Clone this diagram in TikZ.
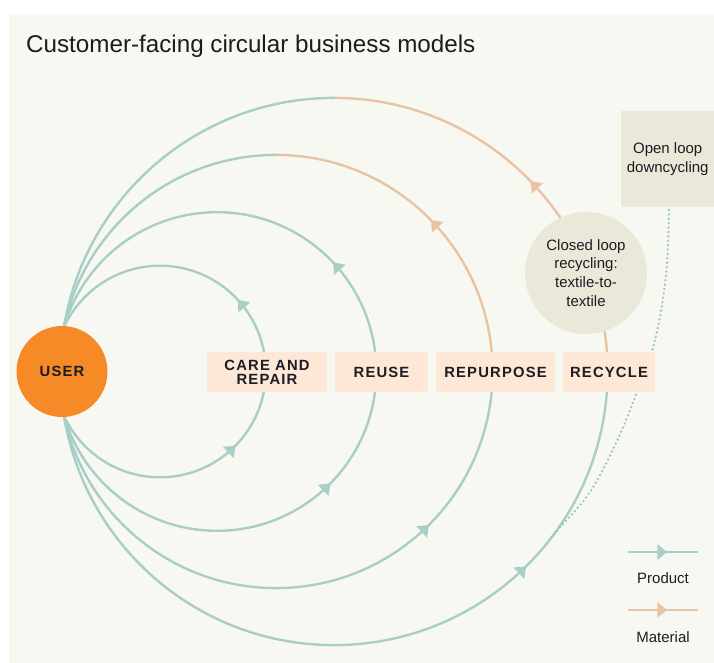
\documentclass[tikz,border=0pt]{standalone}
\usepackage{fontspec}
\setmainfont{Liberation Sans}
\newfontfamily\lblfont{Liberation Sans}[LetterSpace=8]
\usetikzlibrary{arrows.meta,decorations.markings,calc}
\definecolor{panelbg}{HTML}{F8F8F3}
\definecolor{prodcol}{HTML}{A9CEC6}
\definecolor{dotcol}{HTML}{9CC6BD}
\definecolor{matcol}{HTML}{E8C4A4}
\definecolor{usercol}{HTML}{F68A26}
\definecolor{lblfill}{HTML}{FDE8D8}
\definecolor{beige}{HTML}{EAE8D8}
\definecolor{ink}{HTML}{1C1C22}
\begin{document}
\begin{tikzpicture}[x=1pt,y=-1pt,
  flow/.style={line width=2.4pt},
  prod/.style={flow, draw=prodcol},
  mat/.style={flow, draw=matcol},
  ptip/.style={postaction={decorate,decoration={markings,mark=at position #1 with {\arrow[xshift=5pt]{Triangle[length=10pt,width=15pt,color=prodcol]}}}}},
  mtip/.style={postaction={decorate,decoration={markings,mark=at position #1 with {\arrow[xshift=5pt]{Triangle[length=10pt,width=15pt,color=matcol]}}}}},
  lbl/.style={fill=lblfill, minimum height=40pt, inner sep=0pt, align=center, text=ink,
    font=\lblfont\bfseries\fontsize{14.8}{14.3}\selectfont},
  body/.style={text=ink, align=center, font=\fontsize{15}{18.8}\selectfont},
]
\useasboundingbox (0,0) rectangle (714,663);
\fill[panelbg] (9,14) rectangle (714,663);

\node[anchor=base west, inner sep=0pt, text=ink, font=\fontsize{24.2}{28}\selectfont] (title) at (26,53) {Customer-facing circular business models};

% loop centres
\coordinate (c1) at (160,371.5);
\coordinate (c2) at (217,371.5);
\coordinate (c3) at (276,371.5);
\coordinate (c4) at (334,371.5);

% loop 1 and 2 (product)
\draw[prod, ptip=0.369, ptip=0.611] ($(c1)+(180:105.8)$) arc[start angle=180, end angle=-180, radius=105.8];
\draw[prod, ptip=0.371, ptip=0.615] ($(c2)+(180:159.3)$) arc[start angle=180, end angle=-180, radius=159.3];
% loop 3
\draw[prod, ptip=0.742] ($(c3)+(180:216.6)$) arc[start angle=180, end angle=0, radius=216.6];
\draw[mat, mtip=0.478] ($(c3)+(0:216.6)$) arc[start angle=0, end angle=-90, radius=216.6];
\draw[prod] ($(c3)+(-90:216.6)$) arc[start angle=-90, end angle=-180, radius=216.6];
% loop 4
\draw[prod, ptip=0.742] ($(c4)+(180:273.6)$) arc[start angle=180, end angle=0, radius=273.6];
\draw[mat, mtip=0.478] ($(c4)+(0:273.6)$) arc[start angle=0, end angle=-90, radius=273.6];
\draw[prod] ($(c4)+(-90:273.6)$) arc[start angle=-90, end angle=-180, radius=273.6];

% open loop box
\node[fill=beige, minimum width=93pt, minimum height=96pt, anchor=north west, body] (open) at (621,111) {Open loop\\downcycling};
\coordinate (dstart) at (669,210);
\coordinate (dend) at ($(c4)+(37.5:273.6)$);
\draw[dotcol, line width=2.6pt, line cap=round, dash pattern=on 0pt off 4.4pt]
  plot[smooth, tension=0.6] coordinates {(dstart) (666,275) (655,340) (637,392) (616,443) (590,492) (563,524) (dend)};

% user
\node[circle, fill=usercol, minimum size=91pt, inner sep=0pt, text=ink,
  font=\lblfont\bfseries\fontsize{14.8}{14.3}\selectfont] (user) at (62,371.5) {USER};

% labels
\node[lbl, minimum width=120pt] (care) at (267,372) {CARE AND\\REPAIR};
\node[lbl, minimum width=93pt] (reuse) at (381.5,372) {REUSE};
\node[lbl, minimum width=119pt] (repurpose) at (495.5,372) {REPURPOSE};
\node[lbl, minimum width=92pt] (recycle) at (609,372) {RECYCLE};

% closed loop
\node[circle, fill=beige, minimum size=122pt, inner sep=0pt, body] (closed) at (586,273) {Closed loop\\recycling:\\textile-to-\\textile};

% legend
\coordinate (pa) at (628,552);
\coordinate (pb) at (698,552);
\draw[prod, ptip=0.49] (pa) -- (pb);
\node[body] (prodtxt) at (663,578) {Product};
\coordinate (ma) at (628,610);
\coordinate (mb) at (698,610);
\draw[mat, mtip=0.49] (ma) -- (mb);
\node[body] (mattxt) at (663,637) {Material};
\end{tikzpicture}
\end{document}
